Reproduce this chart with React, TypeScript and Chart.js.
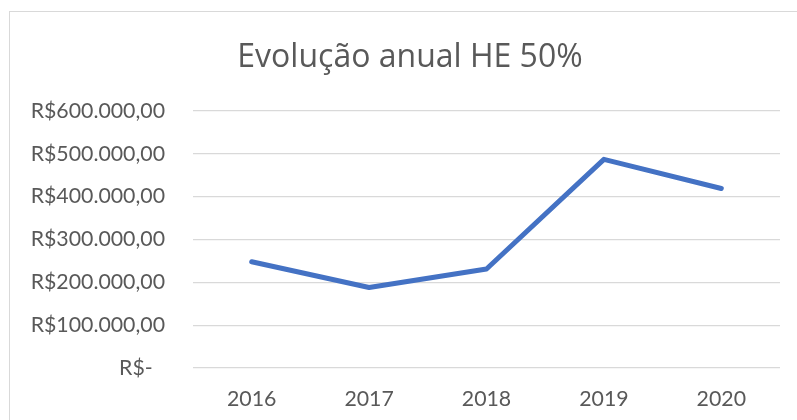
import React, { useEffect, useRef } from "react";
import { Chart, registerables } from "chart.js";

Chart.register(...registerables);

const categories: string[] = ["2016", "2017", "2018", "2019", "2020"];
const values: number[] = [248000, 188000, 231000, 487000, 419000];
const yTicks: number[] = [0, 100000, 200000, 300000, 400000, 500000, 600000];
const titleText = "Evolução anual HE 50%";

function formatBRL(v: number): string {
  if (v === 0) return "R$-\u2007";
  const fixed = v.toFixed(2);
  const [intPart, dec] = fixed.split(".");
  const withDots = intPart.replace(/\B(?=(\d{3})+(?!\d))/g, ".");
  return "R$" + withDots + "," + dec;
}

const FONT = "Lato, 'Open Sans', sans-serif";
const TITLE_FONT = "'Open Sans', Lato, sans-serif";
const TEXT = "#595959";
const GRID = "#d9d9d9";

const titleShift = {
  id: "titleShift",
  afterLayout(chart: any) {
    const t = chart.titleBlock;
    if (t) {
      t.left = 40;
    }
  },
};

export default function App() {
  const ref = useRef<HTMLCanvasElement | null>(null);

  useEffect(() => {
    if (!ref.current) return;
    const chart = new Chart(ref.current, {
      type: "line",
      data: {
        labels: categories,
        datasets: [
          {
            label: titleText,
            data: values,
            borderColor: "#4472C4",
            backgroundColor: "#4472C4",
            borderWidth: 5,
            borderCapStyle: "round",
            borderJoinStyle: "round",
            pointRadius: 0,
            pointHoverRadius: 0,
            tension: 0,
            fill: false,
          },
        ],
      },
      options: {
        animation: false,
        responsive: false,
        maintainAspectRatio: false,
        layout: { padding: { left: 0, right: 17, top: 0, bottom: 0 } },
        plugins: {
          legend: { display: false },
          tooltip: { enabled: false },
          title: {
            display: true,
            text: titleText,
            color: TEXT,
            font: { family: TITLE_FONT, size: 32, weight: "normal" },
            padding: { top: 39, bottom: 33.5 },
          },
        },
        scales: {
          x: {
            offset: true,
            grid: { display: false, drawTicks: false },
            border: { display: false },
            ticks: {
              color: TEXT,
              font: { family: FONT, size: 21.3 },
              padding: 18,
              maxRotation: 0,
            },
            afterFit: (scale: any) => {
              scale.height = 52;
            },
          },
          y: {
            min: 0,
            max: 600000,
            afterBuildTicks: (scale: any) => {
              scale.ticks = yTicks.map((v) => ({ value: v }));
            },
            grid: { color: GRID, lineWidth: 1.3, drawTicks: false },
            border: { display: false },
            ticks: {
              color: TEXT,
              font: { family: FONT, size: 21.3 },
              padding: 28,
              callback: (v: any) => formatBRL(Number(v)),
            },
            afterFit: (scale: any) => {
              scale.width = 193;
            },
          },
        },
      },
      plugins: [titleShift],
    });
    return () => chart.destroy();
  }, []);

  return (
    <div
      style={{
        position: "fixed",
        left: 0,
        top: 0,
        width: 797,
        height: 420,
        background: "#ffffff",
        overflow: "hidden",
      }}
    >
      <div
        style={{
          position: "absolute",
          left: 9,
          top: 11,
          width: 820,
          height: 440,
          border: "1px solid #d9d9d9",
          boxSizing: "border-box",
        }}
      />
      <canvas
        ref={ref}
        width={797}
        height={420}
        style={{ position: "absolute", left: 0, top: 0, width: 797, height: 420 }}
      />
    </div>
  );
}
